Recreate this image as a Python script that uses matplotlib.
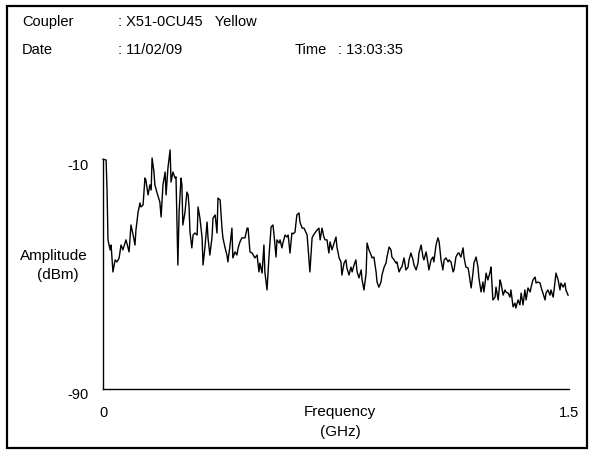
import matplotlib
matplotlib.use("Agg")
import matplotlib.pyplot as plt
from matplotlib.patches import Rectangle
from matplotlib.transforms import ScaledTranslation

plt.rcParams['font.family'] = ['Liberation Sans', 'DejaVu Sans']

# spectrum trace
FREQ_GHZ = [
    0.000, 0.010, 0.013, 0.016, 0.023, 0.026, 0.032, 0.039, 0.045, 0.052,
    0.058, 0.064, 0.074, 0.084, 0.090, 0.097, 0.103, 0.106, 0.113, 0.119,
    0.122, 0.129, 0.135, 0.138, 0.145, 0.151, 0.155, 0.158, 0.164, 0.167,
    0.174, 0.183, 0.187, 0.193, 0.200, 0.203, 0.209, 0.216, 0.219, 0.225,
    0.232, 0.235, 0.241, 0.245, 0.251, 0.254, 0.257, 0.264, 0.270, 0.274,
    0.277, 0.280, 0.286, 0.290, 0.296, 0.303, 0.306, 0.312, 0.319, 0.322,
    0.328, 0.335, 0.338, 0.344, 0.351, 0.354, 0.361, 0.367, 0.370, 0.377,
    0.383, 0.386, 0.393, 0.399, 0.402, 0.409, 0.415, 0.418, 0.425, 0.431,
    0.435, 0.441, 0.447, 0.457, 0.464, 0.467, 0.473, 0.480, 0.489, 0.496,
    0.502, 0.505, 0.512, 0.518, 0.521, 0.528, 0.531, 0.534, 0.541, 0.547,
    0.550, 0.557, 0.560, 0.567, 0.570, 0.576, 0.579, 0.586, 0.592, 0.596,
    0.602, 0.608, 0.612, 0.618, 0.624, 0.631, 0.634, 0.641, 0.647, 0.650,
    0.657, 0.663, 0.666, 0.673, 0.676, 0.682, 0.689, 0.695, 0.699, 0.705,
    0.711, 0.715, 0.721, 0.727, 0.731, 0.737, 0.744, 0.750, 0.753, 0.760,
    0.766, 0.769, 0.776, 0.782, 0.785, 0.792, 0.798, 0.802, 0.808, 0.814,
    0.818, 0.824, 0.831, 0.834, 0.840, 0.847, 0.850, 0.856, 0.863, 0.866,
    0.872, 0.879, 0.882, 0.888, 0.895, 0.898, 0.905, 0.911, 0.914, 0.921,
    0.927, 0.930, 0.937, 0.943, 0.946, 0.953, 0.959, 0.962, 0.969, 0.975,
    0.982, 0.985, 0.991, 0.998, 1.001, 1.008, 1.014, 1.017, 1.024, 1.030,
    1.033, 1.040, 1.046, 1.049, 1.056, 1.062, 1.065, 1.072, 1.078, 1.082,
    1.088, 1.094, 1.098, 1.104, 1.111, 1.114, 1.120, 1.127, 1.130, 1.136,
    1.143, 1.146, 1.152, 1.159, 1.162, 1.168, 1.175, 1.178, 1.185, 1.191,
    1.194, 1.201, 1.207, 1.210, 1.217, 1.223, 1.226, 1.230, 1.233, 1.239,
    1.246, 1.249, 1.255, 1.262, 1.265, 1.272, 1.278, 1.281, 1.288, 1.294,
    1.297, 1.304, 1.310, 1.313, 1.320, 1.326, 1.329, 1.336, 1.342, 1.346,
    1.352, 1.358, 1.362, 1.368, 1.375, 1.378, 1.384, 1.391, 1.394, 1.400,
    1.407, 1.410, 1.416, 1.423, 1.426, 1.432, 1.439, 1.442, 1.449, 1.455,
    1.458, 1.465, 1.471, 1.474, 1.481, 1.487, 1.490, 1.497,
]
AMP_DBM = [
    -9.7, -10.0, -20.5, -37.9, -41.4, -39.7, -49.1, -44.9, -45.6, -44.2,
    -39.7, -41.4, -37.9, -42.1, -32.7, -36.2, -39.7, -34.5, -28.2, -25.0,
    -26.4, -25.7, -16.3, -17.0, -22.2, -18.7, -20.5, -9.3, -14.2, -18.7,
    -21.5, -24.7, -29.9, -18.7, -14.2, -22.2, -12.8, -6.5, -17.7, -14.2,
    -16.3, -15.9, -46.7, -28.2, -16.3, -18.7, -32.7, -28.2, -21.2, -22.2,
    -26.4, -35.2, -40.7, -36.2, -35.5, -36.2, -26.4, -30.3, -37.2, -46.7,
    -40.7, -31.7, -37.2, -43.2, -36.9, -30.3, -29.2, -35.5, -23.3, -24.0,
    -33.8, -37.2, -40.7, -43.2, -45.6, -39.7, -33.8, -44.2, -42.1, -43.2,
    -40.7, -38.6, -37.2, -37.2, -33.8, -33.8, -42.1, -42.5, -44.2, -43.2,
    -49.1, -46.0, -49.5, -39.7, -49.1, -55.4, -49.5, -44.2, -33.4, -32.7,
    -35.5, -43.9, -37.9, -39.0, -37.9, -40.7, -39.0, -36.2, -36.9, -36.2,
    -42.5, -35.5, -35.8, -35.2, -29.2, -28.5, -31.7, -33.8, -33.8, -34.5,
    -36.2, -44.9, -49.1, -37.2, -36.5, -35.5, -34.5, -33.8, -37.9, -33.8,
    -36.9, -37.9, -37.9, -42.5, -38.6, -41.4, -39.0, -36.9, -40.4, -44.2,
    -45.6, -50.2, -46.0, -44.9, -47.7, -50.2, -47.4, -49.1, -46.7, -44.9,
    -49.1, -51.2, -48.4, -51.9, -55.4, -49.5, -39.0, -41.4, -43.2, -44.2,
    -43.9, -49.1, -52.6, -54.4, -52.6, -50.2, -47.4, -46.0, -43.9, -40.4,
    -41.4, -43.9, -44.9, -46.0, -45.6, -49.1, -47.7, -47.4, -44.2, -48.4,
    -47.4, -44.9, -42.5, -44.9, -46.7, -48.4, -46.0, -42.5, -39.7, -43.9,
    -44.9, -42.1, -46.0, -48.4, -44.9, -43.9, -45.6, -39.7, -37.2, -38.6,
    -44.9, -48.4, -44.9, -44.2, -45.6, -44.9, -45.6, -49.1, -48.4, -43.9,
    -42.5, -42.5, -43.9, -40.7, -43.9, -47.4, -47.7, -49.5, -54.7, -49.5,
    -46.0, -43.9, -47.4, -51.2, -56.1, -52.6, -56.1, -53.0, -49.5, -51.9,
    -49.1, -47.4, -58.9, -57.9, -54.4, -58.9, -51.9, -53.0, -57.2, -55.4,
    -56.1, -56.5, -57.9, -55.4, -61.3, -60.0, -61.7, -58.9, -60.6, -56.5,
    -60.6, -55.4, -58.9, -54.7, -56.1, -54.4, -51.9, -50.9, -53.0, -52.6,
    -53.0, -54.4, -56.5, -58.9, -56.5, -55.4, -57.2, -55.4, -57.9, -52.6,
    -49.5, -51.9, -55.4, -53.0, -54.4, -53.0, -55.4, -57.2,
]

X_TICKS = [0, 1.5]
X_TICK_LABELS = ['0', '1.5']
Y_TICKS = [-90, -10]
Y_TICK_LABELS = ['-90', '-10']

HEADER = [
    ('Coupler', ': X51-0CU45   Yellow'),
    ('Date', ': 11/02/09'),
]
TIME_TEXT = ('Time', ': 13:03:35')

W, H = 593, 450
FS = 10.5
fig = plt.figure(figsize=(W / 100, H / 100), dpi=100)
fig.patch.set_facecolor('white')


def fx(px):
    return px / W


def fy(py):
    return 1 - py / H


# frame around the whole printout
fig.patches.append(Rectangle((fx(7), fy(448)), fx(580), (448 - 6) / H,
                             transform=fig.transFigure, fill=False,
                             edgecolor='black', linewidth=1.6))

ax = fig.add_axes([fx(103), fy(389), fx(569 - 103), (389 - 160) / H])
ax.plot(FREQ_GHZ, AMP_DBM, color='black', linewidth=1.0, clip_on=False)
ax.set_xlim(0, 1.5)
ax.set_ylim(-90, -10)
for side in ('top', 'right'):
    ax.spines[side].set_visible(False)
for side in ('left', 'bottom'):
    ax.spines[side].set_linewidth(1.0)
ax.set_xticks(X_TICKS)
ax.set_xticklabels(X_TICK_LABELS)
ax.set_yticks(Y_TICKS)
ax.set_yticklabels(Y_TICK_LABELS)
ax.tick_params(axis='x', length=0, labelsize=FS, pad=12)
ax.tick_params(axis='y', length=0, labelsize=FS, pad=10)
# y labels sit a little below their value line
for lab in ax.get_yticklabels():
    lab.set_transform(lab.get_transform()
                      + ScaledTranslation(0, -0.045, fig.dpi_scale_trans))
ax.set_facecolor('white')

# header block
for i, (key, val) in enumerate(HEADER):
    y = fy(26 + 28 * i)
    fig.text(fx(22), y, key, fontsize=FS, va='baseline')
    fig.text(fx(118), y, val, fontsize=FS, va='baseline')
fig.text(fx(295), fy(54), TIME_TEXT[0], fontsize=FS, va='baseline')
fig.text(fx(338), fy(54), TIME_TEXT[1], fontsize=FS, va='baseline')

# axis captions
fig.text(fx(54), fy(256), 'Amplitude', fontsize=11, ha='center', va='center')
fig.text(fx(58), fy(275), '(dBm)', fontsize=11, ha='center', va='center')
fig.text(fx(340), fy(412), 'Frequency', fontsize=11, ha='center', va='center')
fig.text(fx(340), fy(432), '(GHz)', fontsize=11, ha='center', va='center')

fig.savefig('out.png', dpi=100)
